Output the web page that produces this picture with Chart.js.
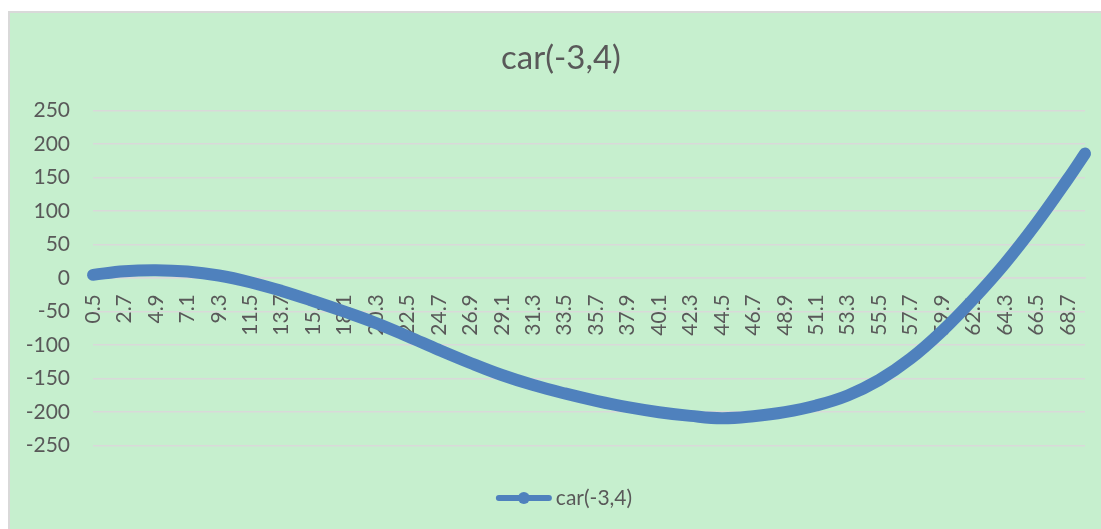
<!DOCTYPE html>
<html>
<head>
<meta charset="utf-8">
<title>car(-3,4)</title>
<script src="https://cdn.jsdelivr.net/npm/chart.js@4.4.1/dist/chart.umd.min.js"></script>
<style>
  html, body { margin: 0; padding: 0; background: #ffffff; }
  #frame {
    position: absolute; left: 8px; top: 11px; width: 1093px; height: 518px;
    box-sizing: border-box; border-left: 2px solid #D9D9D9; border-top: 2px solid #D9D9D9;
    background: #C6EFCE; overflow: hidden;
  }
  #frame canvas { display: block; }
</style>
</head>
<body>
<div id="frame"><canvas id="chart" width="1091" height="516"></canvas></div>
<script>
// Series name, shared by the title and the legend
const seriesName = 'car(-3,4)';

// Sampled x positions (category values) and the curve's values there
const xSamples = [0.5, 2.7, 4.9, 7.1, 9.3, 11.5, 13.7, 15.9, 18.1, 20.3, 22.5,
                  24.7, 26.9, 29.1, 31.3, 33.5, 35.7, 37.9, 40.1, 42.3, 44.5,
                  46.7, 48.9, 51.1, 53.3, 55.5, 57.7, 59.9, 62.1, 64.3, 66.5,
                  68.7, 69.9];
const ySamples = [5, 10.5, 12, 10, 4, -6, -19, -34, -50, -67, -86.5,
                  -107, -126.5, -144.5, -159.5, -172, -183, -192.5, -200, -205.5, -209,
                  -206, -200, -190, -175, -152, -120, -79, -31, 22, 82,
                  148, 186];

// Category labels shown along the horizontal axis
const xTickLabels = ['0.5', '2.7', '4.9', '7.1', '9.3', '11.5', '13.7', '15.9', '18.1',
                     '20.3', '22.5', '24.7', '26.9', '29.1', '31.3', '33.5', '35.7',
                     '37.9', '40.1', '42.3', '44.5', '46.7', '48.9', '51.1', '53.3',
                     '55.5', '57.7', '59.9', '62.1', '64.3', '66.5', '68.7'];
const xRange = [0.5, 69.9];

// Value axis labels, top to bottom
const yTickLabels = ['250', '200', '150', '100', '50', '0', '-50', '-100', '-150', '-200', '-250'];
const yRange = [-250, 250];

const textColor = '#595959';
const gridColor = '#D9D9D9';
const lineColor = '#4F81BD';
const fontFamily = 'Lato, "Open Sans", sans-serif';

// Title above the plot and a legend entry (short line with a round marker) below it
const titleAndLegend = {
  id: 'titleAndLegend',
  afterDraw(chart) {
    const ctx = chart.ctx;
    const ds = chart.data.datasets[0];
    ctx.save();

    ctx.fillStyle = textColor;
    ctx.font = '33px ' + fontFamily;
    ctx.textAlign = 'center';
    ctx.textBaseline = 'middle';
    ctx.fillText(seriesName, 551, 45);

    ctx.font = '21px ' + fontFamily;
    const textW = ctx.measureText(ds.label).width;
    const swatchW = 56, gap = 4;
    const total = swatchW + gap + textW;
    const cx = 554, cy = 485;
    const x0 = cx - total / 2;
    ctx.strokeStyle = ds.borderColor;
    ctx.lineWidth = 6;
    ctx.lineCap = 'round';
    ctx.beginPath();
    ctx.moveTo(x0 + 3, cy);
    ctx.lineTo(x0 + swatchW - 3, cy);
    ctx.stroke();
    ctx.fillStyle = ds.borderColor;
    ctx.beginPath();
    ctx.arc(x0 + swatchW / 2, cy, 6, 0, Math.PI * 2);
    ctx.fill();
    ctx.fillStyle = textColor;
    ctx.textAlign = 'left';
    ctx.fillText(ds.label, x0 + swatchW + gap, cy);
    ctx.restore();
  }
};

new Chart(document.getElementById('chart'), {
  type: 'line',
  data: {
    datasets: [{
      label: seriesName,
      data: xSamples.map((x, i) => ({ x: x, y: ySamples[i] })),
      borderColor: lineColor,
      backgroundColor: lineColor,
      borderWidth: 12,
      borderCapStyle: 'round',
      borderJoinStyle: 'round',
      tension: 0.4,
      pointRadius: 0,
      pointHoverRadius: 0,
      fill: false,
      clip: false
    }]
  },
  options: {
    responsive: false,
    animation: false,
    devicePixelRatio: 1,
    layout: { padding: { left: 0, right: 16, top: 97.7, bottom: 83.3 } },
    plugins: {
      legend: { display: false },
      tooltip: { enabled: false },
      title: { display: false }
    },
    scales: {
      x: {
        type: 'linear',
        min: xRange[0],
        max: xRange[1],
        position: { y: 0 },
        afterBuildTicks: (scale) => {
          scale.ticks = xTickLabels.map(t => ({ value: parseFloat(t) }));
        },
        afterFit: (scale) => {
          // the plot spans the full width; rotated labels need no side room
          scale.paddingLeft = 0;
          scale.paddingRight = 0;
        },
        ticks: {
          autoSkip: false,
          maxRotation: 90,
          minRotation: 90,
          padding: 16,
          color: textColor,
          font: { family: fontFamily, size: 21 },
          callback: (value, index) => xTickLabels[index]
        },
        grid: { display: false, drawTicks: false },
        border: { display: true, color: gridColor, width: 1.5 }
      },
      y: {
        min: yRange[0],
        max: yRange[1],
        afterBuildTicks: (scale) => {
          scale.ticks = yTickLabels.map(t => ({ value: parseFloat(t) }));
        },
        ticks: {
          padding: 23,
          color: textColor,
          font: { family: fontFamily, size: 21 },
          callback: (value, index) => yTickLabels[index]
        },
        grid: { color: gridColor, lineWidth: 1.5, drawTicks: false },
        border: { display: false },
        afterFit: (scale) => { scale.width = 83; }
      }
    }
  },
  plugins: [titleAndLegend]
});
</script>
</body>
</html>
